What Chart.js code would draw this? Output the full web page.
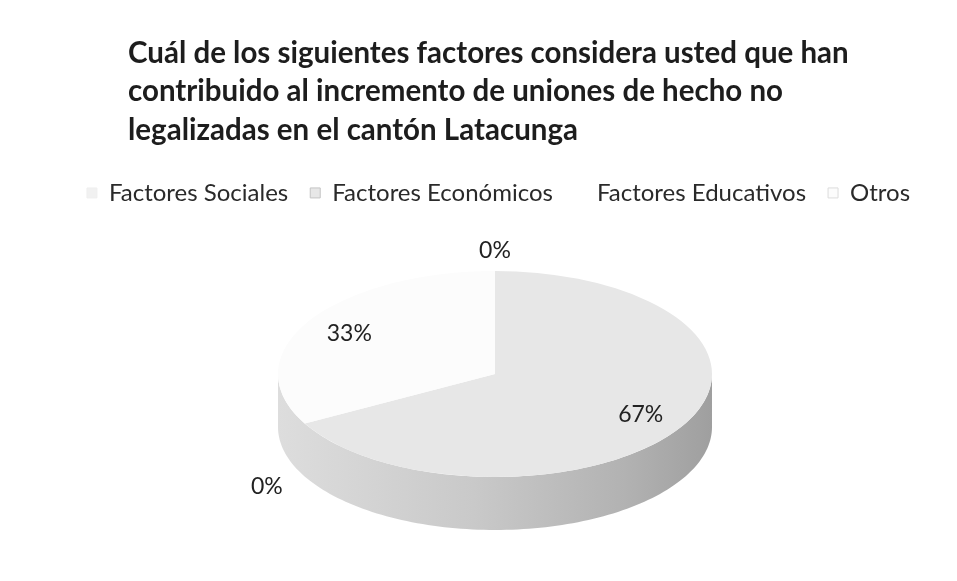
<!DOCTYPE html>
<html>
<head>
<meta charset="utf-8">
<script src="https://cdn.jsdelivr.net/npm/chart.js@4.4.1/dist/chart.umd.min.js"></script>
<style>
  html, body { margin: 0; padding: 0; background: #ffffff; }
  #wrap { width: 957px; height: 581px; }
</style>
</head>
<body>
<div id="wrap"><canvas id="c" width="957" height="581"></canvas></div>
<script>
const titleLines = [
  'Cuál de los siguientes factores considera usted que han',
  'contribuido al incremento de uniones de hecho no',
  'legalizadas en el cantón Latacunga'
];
const categories = ['Factores Sociales', 'Factores Económicos', 'Factores Educativos', 'Otros'];
const percentValues = [0, 67, 0, 33];
const sliceColors = ['#f1f1f1', '#e7e7e7', '#ffffff', '#fcfcfc'];
const markerBorders = ['#efefef', '#c4c4c4', '#ffffff', '#dcdcdc'];

const titleShift = {
  id: 'titleShift',
  afterLayout(chart, args, o) {
    if (chart.titleBlock) {
      chart.titleBlock.left = o.left;
    }
  }
};

const pie3d = {
  id: 'pie3d',
  beforeDatasetDraw(chart, args, o) {
    const ctx = chart.ctx;
    const arcs = args.meta.data;
    const a0 = arcs[0];
    const ox = a0.x, oy = a0.y, R = a0.outerRadius;
    const sx = o.rx / R, sy = o.ry / R;

    // side wall (visible front half), merged across adjacent slices
    const grad = ctx.createLinearGradient(o.cx - o.rx, 0, o.cx + o.rx, 0);
    grad.addColorStop(0, '#dddddd');
    grad.addColorStop(0.45, '#c9c9c9');
    grad.addColorStop(0.8, '#b2b2b2');
    grad.addColorStop(1, '#9f9f9f');
    let pieces = [];
    arcs.forEach((arc) => {
      if (arc.circumference <= 0) return;
      for (let k = -1; k <= 1; k++) {
        const lo = Math.max(arc.startAngle, k * 2 * Math.PI);
        const hi = Math.min(arc.endAngle, k * 2 * Math.PI + Math.PI);
        if (hi > lo) pieces.push([lo - k * 2 * Math.PI, hi - k * 2 * Math.PI]);
      }
    });
    pieces.sort((a, b) => a[0] - b[0]);
    const merged = [];
    pieces.forEach((p) => {
      const last = merged[merged.length - 1];
      if (last && p[0] <= last[1] + 1e-6) last[1] = Math.max(last[1], p[1]);
      else merged.push([p[0], p[1]]);
    });
    merged.forEach(([lo, hi]) => {
      const steps = 120;
      ctx.save();
      ctx.beginPath();
      for (let j = 0; j <= steps; j++) {
        const t = lo + (hi - lo) * j / steps;
        const x = o.cx + o.rx * Math.cos(t), y = o.cy + o.ry * Math.sin(t);
        if (j === 0) ctx.moveTo(x, y); else ctx.lineTo(x, y);
      }
      for (let j = steps; j >= 0; j--) {
        const t = lo + (hi - lo) * j / steps;
        ctx.lineTo(o.cx + o.rx * Math.cos(t), o.cy + o.ry * Math.sin(t) + o.depth);
      }
      ctx.closePath();
      ctx.fillStyle = grad;
      ctx.fill();
      ctx.restore();
    });

    // top faces
    arcs.forEach((arc) => {
      if (arc.circumference <= 0) return;
      ctx.save();
      ctx.translate(o.cx, o.cy);
      ctx.scale(sx, sy);
      ctx.translate(-ox, -oy);
      ctx.beginPath();
      ctx.moveTo(arc.x, arc.y);
      ctx.arc(arc.x, arc.y, arc.outerRadius, arc.startAngle, arc.endAngle);
      ctx.closePath();
      ctx.fillStyle = arc.options.backgroundColor;
      ctx.fill();
      ctx.restore();
    });

    // percentage labels
    const vals = chart.data.datasets[0].data;
    ctx.save();
    ctx.font = o.labelFont;
    ctx.fillStyle = o.labelColor;
    ctx.textAlign = 'center';
    ctx.textBaseline = 'middle';
    arcs.forEach((arc, i) => {
      const mid = (arc.startAngle + arc.endAngle) / 2;
      const f = vals[i] > 0 ? o.inside : o.outside;
      const x = o.cx + o.rx * f * Math.cos(mid);
      let y = o.cy + o.ry * f * Math.sin(mid);
      if (vals[i] === 0 && Math.sin(mid) > 0.05) y += o.depth;
      ctx.fillText(vals[i] + '%', x, y);
    });
    ctx.restore();
    return false;
  }
};

new Chart(document.getElementById('c'), {
  type: 'pie',
  data: {
    labels: categories,
    datasets: [{
      data: percentValues,
      backgroundColor: sliceColors,
      borderColor: markerBorders,
      borderWidth: 1
    }]
  },
  plugins: [titleShift, pie3d],
  options: {
    responsive: false,
    animation: false,
    events: [],
    layout: { padding: { left: 40, right: 0, top: 34, bottom: 20 } },
    plugins: {
      titleShift: { left: 128 },
      title: {
        display: true,
        text: titleLines,
        align: 'start',
        color: '#1d1d1d',
        font: { family: 'Lato', size: 29.5, weight: 'bold', lineHeight: 1.31 },
        padding: { top: 0, bottom: 9 }
      },
      legend: {
        position: 'top',
        align: 'center',
        labels: {
          boxWidth: 10,
          boxHeight: 10,
          padding: 22,
          color: '#2a2a2a',
          font: { family: 'Lato', size: 24 }
        }
      },
      tooltip: { enabled: false },
      pie3d: {
        cx: 495, cy: 374, rx: 217, ry: 103, depth: 53,
        inside: 0.78, outside: 1.2,
        labelFont: '23px Lato', labelColor: '#222222'
      }
    }
  }
});
</script>
</body>
</html>
